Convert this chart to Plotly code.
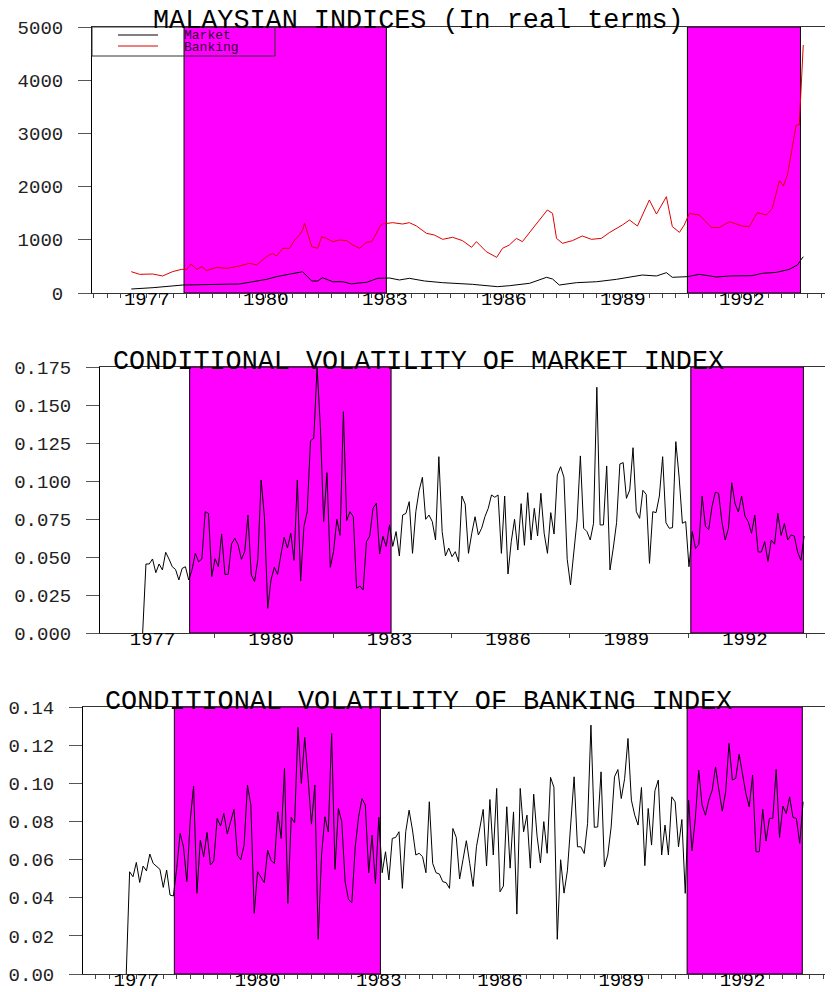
import plotly.graph_objects as go

# ---------------- data ----------------
# Panel 1: real-terms indices (irregular readings, decimal years)
mkt_year = [1976.61, 1977.16, 1977.91, 1979.34, 1979.67, 1980.02, 1980.27, 1980.60, 1980.93, 1981.16,
            1981.31, 1981.43, 1981.69, 1981.94, 1982.16, 1982.37, 1982.54, 1982.82, 1983.12, 1983.37,
            1983.62, 1984.00, 1984.46, 1985.21, 1985.84, 1986.14, 1986.65, 1987.08, 1987.23, 1987.40,
            1987.83, 1988.34, 1988.84, 1989.49, 1989.85, 1990.10, 1990.25, 1990.63, 1990.93, 1991.36,
            1991.69, 1992.26, 1992.52, 1992.87, 1993.20, 1993.40, 1993.55]
mkt_index = [75, 100, 150, 170, 212, 257, 307, 357, 400, 226,
             226, 288, 212, 212, 170, 190, 200, 276, 282, 245,
             276, 226, 194, 163, 119, 137, 182, 295, 263, 150,
             194, 212, 257, 338, 320, 382, 295, 307, 351, 301,
             320, 326, 370, 388, 445, 526, 683]

bank_year = [1976.61, 1976.82, 1977.15, 1977.40, 1977.65, 1977.88, 1978.01, 1978.11, 1978.26, 1978.39,
             1978.51, 1978.76, 1979.02, 1979.34, 1979.59, 1979.77, 1980.02, 1980.17, 1980.27, 1980.43,
             1980.60, 1980.73, 1980.85, 1980.93, 1980.98, 1981.16, 1981.31, 1981.41, 1981.53, 1981.69,
             1981.86, 1982.04, 1982.19, 1982.37, 1982.54, 1982.67, 1982.79, 1982.87, 1982.94, 1983.20,
             1983.45, 1983.62, 1983.80, 1984.05, 1984.25, 1984.46, 1984.71, 1984.96, 1985.19, 1985.31,
             1985.56, 1985.82, 1985.97, 1986.14, 1986.32, 1986.47, 1986.70, 1986.90, 1987.10, 1987.23,
             1987.33, 1987.48, 1987.73, 1987.98, 1988.21, 1988.46, 1988.66, 1988.99, 1989.17, 1989.37,
             1989.67, 1989.85, 1989.97, 1990.10, 1990.25, 1990.43, 1990.55, 1990.68, 1990.93, 1991.23,
             1991.43, 1991.69, 1992.01, 1992.19, 1992.39, 1992.62, 1992.77, 1992.95, 1993.05, 1993.15,
             1993.27, 1993.37, 1993.45, 1993.55]
bank_index = [401, 351, 357, 320, 401, 445, 445, 545, 445, 494,
              420, 482, 464, 508, 558, 526, 683, 745, 695, 840,
              840, 996, 1090, 1184, 1310, 870, 840, 1058, 1027, 965,
              996, 984, 902, 840, 952, 965, 1122, 1247, 1297, 1322,
              1297, 1322, 1260, 1122, 1090, 1009, 1047, 984, 859, 965,
              777, 670, 840, 902, 1027, 965, 1184, 1372, 1560, 1497,
              1027, 934, 984, 1072, 1009, 1027, 1134, 1278, 1372, 1259,
              1748, 1485, 1654, 1810, 1247, 1140, 1278, 1497, 1466, 1234,
              1228, 1340, 1259, 1247, 1510, 1466, 1591, 2112, 2012, 2218,
              2720, 3158, 3158, 4662]

# Panels 2 and 3: monthly conditional volatilities, first observation Oct 1976
vol_start = 1976.75
mkt_vol = [0, 0.0454, 0.0454, 0.0487, 0.0397, 0.0454, 0.0415, 0.0531, 0.0487, 0.0436,
           0.0418, 0.0349, 0.0425, 0.0436, 0.0349, 0.0415, 0.0524, 0.0469, 0.0487, 0.0798,
           0.0787, 0.0371, 0.0489, 0.0436, 0.0651, 0.0386, 0.0386, 0.0586, 0.0623, 0.058,
           0.0485, 0.0535, 0.0776, 0.0382, 0.0338, 0.0482, 0.1007, 0.0765, 0.0162, 0.0349,
           0.0432, 0.0386, 0.0513, 0.063, 0.0559, 0.0656, 0.0478, 0.1007, 0.0342, 0.07,
           0.0798, 0.1265, 0.1281, 0.1748, 0.1358, 0.0733, 0.1055, 0.0432, 0.0535, 0.0748,
           0.0642, 0.1456, 0.074, 0.0798, 0.0765, 0.0294, 0.0309, 0.0283, 0.0601, 0.0638,
           0.082, 0.0853, 0.052, 0.0636, 0.057, 0.0711, 0.057, 0.0667, 0.0507, 0.0776,
           0.0787, 0.0864, 0.0524, 0.0798, 0.0937, 0.1024, 0.0748, 0.0776, 0.0733, 0.0612,
           0.116, 0.0667, 0.0507, 0.0559, 0.0502, 0.0535, 0.0469, 0.0901, 0.0848, 0.0524,
           0.0656, 0.0765, 0.0645, 0.0689, 0.0765, 0.082, 0.0908, 0.0893, 0.0908, 0.0524,
           0.0901, 0.0388, 0.0601, 0.0748, 0.0546, 0.0851, 0.0577, 0.0923, 0.0612, 0.082,
           0.0638, 0.0919, 0.0656, 0.0524, 0.0792, 0.0651, 0.104, 0.1094, 0.1024, 0.0485,
           0.0316, 0.0524, 0.0743, 0.1165, 0.0689, 0.0667, 0.0612, 0.0722, 0.1617, 0.0711,
           0.0711, 0.1099, 0.0415, 0.0559, 0.0726, 0.1112, 0.1121, 0.0886, 0.0941, 0.1219,
           0.0798, 0.0754, 0.0939, 0.0912, 0.0458, 0.0798, 0.0792, 0.0901, 0.116, 0.0726,
           0.0689, 0.0693, 0.1259, 0.1026, 0.0722, 0.0733, 0.0436, 0.0667, 0.0555, 0.0584,
           0.0901, 0.0702, 0.068, 0.0832, 0.0926, 0.0919, 0.0733, 0.0612, 0.0689, 0.0989,
           0.0851, 0.0796, 0.0901, 0.077, 0.0733, 0.0656, 0.0776, 0.0533, 0.0533, 0.0601,
           0.0469, 0.0612, 0.0584, 0.0787, 0.0642, 0.072, 0.0612, 0.0645, 0.0638, 0.0533,
           0.0478, 0.0638]
bank_vol = [0, 0.0536, 0.051, 0.0585, 0.048, 0.0566, 0.0541, 0.0629, 0.058, 0.0566,
            0.0549, 0.0454, 0.0545, 0.0414, 0.0409, 0.0555, 0.0737, 0.0667, 0.0484, 0.0807,
            0.0985, 0.0423, 0.0702, 0.0615, 0.0742, 0.0571, 0.0593, 0.0816, 0.0776, 0.0842,
            0.0734, 0.0799, 0.0863, 0.0624, 0.0599, 0.0676, 0.099, 0.0886, 0.0318, 0.0536,
            0.051, 0.0479, 0.065, 0.0595, 0.058, 0.085, 0.0711, 0.1078, 0.037, 0.0821,
            0.0793, 0.1293, 0.0999, 0.124, 0.1025, 0.0786, 0.099, 0.0182, 0.0624, 0.0824,
            0.0745, 0.1261, 0.0549, 0.0868, 0.0799, 0.0484, 0.0391, 0.0374, 0.0667, 0.0824,
            0.092, 0.0886, 0.0531, 0.0728, 0.0475, 0.0821, 0.0531, 0.0641, 0.0493, 0.0711,
            0.0716, 0.0746, 0.0449, 0.0746, 0.0859, 0.0755, 0.0624, 0.0633, 0.0615, 0.0531,
            0.0903, 0.058, 0.0531, 0.0524, 0.0484, 0.0479, 0.0449, 0.0763, 0.0716, 0.0498,
            0.0599, 0.0699, 0.058, 0.0459, 0.0667, 0.0772, 0.0863, 0.0566, 0.0915, 0.0624,
            0.0973, 0.0431, 0.0461, 0.0877, 0.0555, 0.085, 0.0314, 0.0973, 0.0746, 0.0833,
            0.0555, 0.0943, 0.0723, 0.0582, 0.0799, 0.0633, 0.1031, 0.0979, 0.0182, 0.0599,
            0.0424, 0.0541, 0.0799, 0.1034, 0.0667, 0.0667, 0.0632, 0.079, 0.1305, 0.0769,
            0.0771, 0.106, 0.0562, 0.0624, 0.0771, 0.1034, 0.1072, 0.092, 0.1024, 0.1235,
            0.0912, 0.0833, 0.0781, 0.0978, 0.0568, 0.0868, 0.0676, 0.0961, 0.1017, 0.0624,
            0.0781, 0.0624, 0.0929, 0.0903, 0.0667, 0.081, 0.0423, 0.0912, 0.0646, 0.0816,
            0.1069, 0.0886, 0.0833, 0.0912, 0.0964, 0.1086, 0.0964, 0.0854, 0.0955, 0.1209,
            0.1017, 0.1026, 0.1153, 0.1043, 0.0947, 0.0877, 0.1043, 0.0641, 0.0641, 0.0863,
            0.0697, 0.0816, 0.0816, 0.1072, 0.0716, 0.088, 0.0841, 0.0929, 0.0821, 0.0816,
            0.0685, 0.0903]
vol_months = [vol_start + i / 12 for i in range(len(mkt_vol))]

# shaded periods (decimal years)
shade_periods = [(1977.94, 1983.04), (1990.63, 1993.48)]

year_ticks = [1977, 1980, 1983, 1986, 1989, 1992]
year_labels = [str(y) for y in year_ticks]

titles = ["MALAYSIAN INDICES (In real terms)",
          "CONDITIONAL VOLATILITY OF MARKET INDEX",
          "CONDITIONAL VOLATILITY OF BANKING INDEX"]
legend_names = ["Market", "Banking"]

# ---------------- figure ----------------
# the page body has an 8px margin, so the figure is laid out in screen pixels minus OFF
OFF = 8
W, H = 833 - OFF, 992 - OFF
MONO = "Liberation Mono"


def px_x(p):
    return (p - OFF) / W


def px_y(p):
    return 1 - (p - OFF) / H


fig = go.Figure()

fig.add_trace(go.Scatter(x=mkt_year, y=mkt_index, mode="lines", name=legend_names[0],
                         line=dict(color="black", width=1), xaxis="x", yaxis="y"))
fig.add_trace(go.Scatter(x=bank_year, y=bank_index, mode="lines", name=legend_names[1],
                         line=dict(color="#e00000", width=1), xaxis="x", yaxis="y"))
fig.add_trace(go.Scatter(x=vol_months, y=mkt_vol, mode="lines",
                         line=dict(color="black", width=1), xaxis="x2", yaxis="y2"))
fig.add_trace(go.Scatter(x=vol_months, y=bank_vol, mode="lines",
                         line=dict(color="black", width=1), xaxis="x3", yaxis="y3"))

panels = [
    dict(xl=92, yt=27, yb=293, xr=[1975.62, 1994.30], yr=[0, 5000],
         yt_vals=[0, 1000, 2000, 3000, 4000, 5000], fmt="d"),
    dict(xl=100, yt=367, yb=633, xr=[1975.67, 1994.23], yr=[0, 0.175],
         yt_vals=[0, 0.025, 0.05, 0.075, 0.1, 0.125, 0.15, 0.175], fmt=".3f"),
    dict(xl=83, yt=707, yb=974, xr=[1975.68, 1994.24], yr=[0, 0.14],
         yt_vals=[0, 0.02, 0.04, 0.06, 0.08, 0.10, 0.12, 0.14], fmt=".2f"),
]

layout = dict(width=W, height=H, autosize=False, template="none",
              margin=dict(l=0, r=0, t=0, b=0, pad=0),
              paper_bgcolor="white", plot_bgcolor="white",
              showlegend=False)

for i, p in enumerate(panels):
    sfx = "" if i == 0 else str(i + 1)
    if i == 1:
        minor = dict(tickmode="array",
                     tickvals=[1978.57, 1981.57, 1984.57, 1987.57, 1990.57, 1993.57],
                     ticks="outside", ticklen=4, tickcolor="#444", tickwidth=1)
    else:
        minor = dict(tickmode="linear", tick0=1977, dtick=1 / 3,
                     ticks="outside", ticklen=4, tickcolor="#444", tickwidth=1)
    layout["xaxis" + sfx] = dict(
        domain=[px_x(p["xl"]), 1.0], range=p["xr"], anchor="y" + sfx,
        automargin=False,
        showline=True, linecolor="#333", linewidth=1, mirror=True,
        ticks="", tickmode="array", tickvals=year_ticks, ticktext=year_labels,
        tickfont=dict(family=MONO, size=19, color="black"),
        ticklabelstandoff=-12,
        showgrid=False, zeroline=False, minor=minor)
    layout["yaxis" + sfx] = dict(
        domain=[px_y(p["yb"]), px_y(p["yt"])], range=p["yr"], anchor="x" + sfx,
        automargin=False,
        showline=True, linecolor="black", linewidth=1,
        ticks="outside", ticklen=13, tickcolor="#555", tickwidth=1,
        tickmode="array", tickvals=p["yt_vals"],
        ticktext=[format(v, p["fmt"]) if p["fmt"] != "d" else str(v) for v in p["yt_vals"]],
        tickfont=dict(family=MONO, size=19, color="#222"),
        ticklabelstandoff=11,
        showgrid=False, zeroline=False)

fig.update_layout(**layout)

# shaded periods
for i in range(3):
    sfx = "" if i == 0 else str(i + 1)
    for (a, b) in shade_periods:
        fig.add_shape(type="rect", xref="x" + sfx, yref="y" + sfx + " domain",
                      x0=a, x1=b, y0=0, y1=1, fillcolor="#ff00ff",
                      line=dict(color="black", width=1), layer="below")

# titles (baseline sitting on the top frame line)
title_base = [31, 371.5, 711.5]
for t, base in zip(titles, title_base):
    fig.add_annotation(text=t, xref="paper", yref="paper", x=px_x(418), y=px_y(base + 6),
                       xanchor="center", yanchor="bottom", showarrow=False, borderpad=0,
                       font=dict(family=MONO, size=26.8, color="black"))

# legend box (top panel)
fig.add_shape(type="rect", xref="paper", yref="paper",
              x0=px_x(92), x1=px_x(275), y0=px_y(56), y1=px_y(27),
              line=dict(color="#333", width=1), fillcolor="rgba(0,0,0,0)", layer="above")
for name, color, ypx in [(legend_names[0], "black", 35), (legend_names[1], "#e00000", 46)]:
    fig.add_shape(type="line", xref="paper", yref="paper",
                  x0=px_x(118), x1=px_x(158), y0=px_y(ypx), y1=px_y(ypx),
                  line=dict(color=color, width=1))
    fig.add_annotation(text=name, xref="paper", yref="paper", x=px_x(183), y=px_y(ypx + 1),
                       xanchor="left", yanchor="middle", showarrow=False, borderpad=0,
                       font=dict(family=MONO, size=13, color="#300030"))

fig.write_html("out.html")
